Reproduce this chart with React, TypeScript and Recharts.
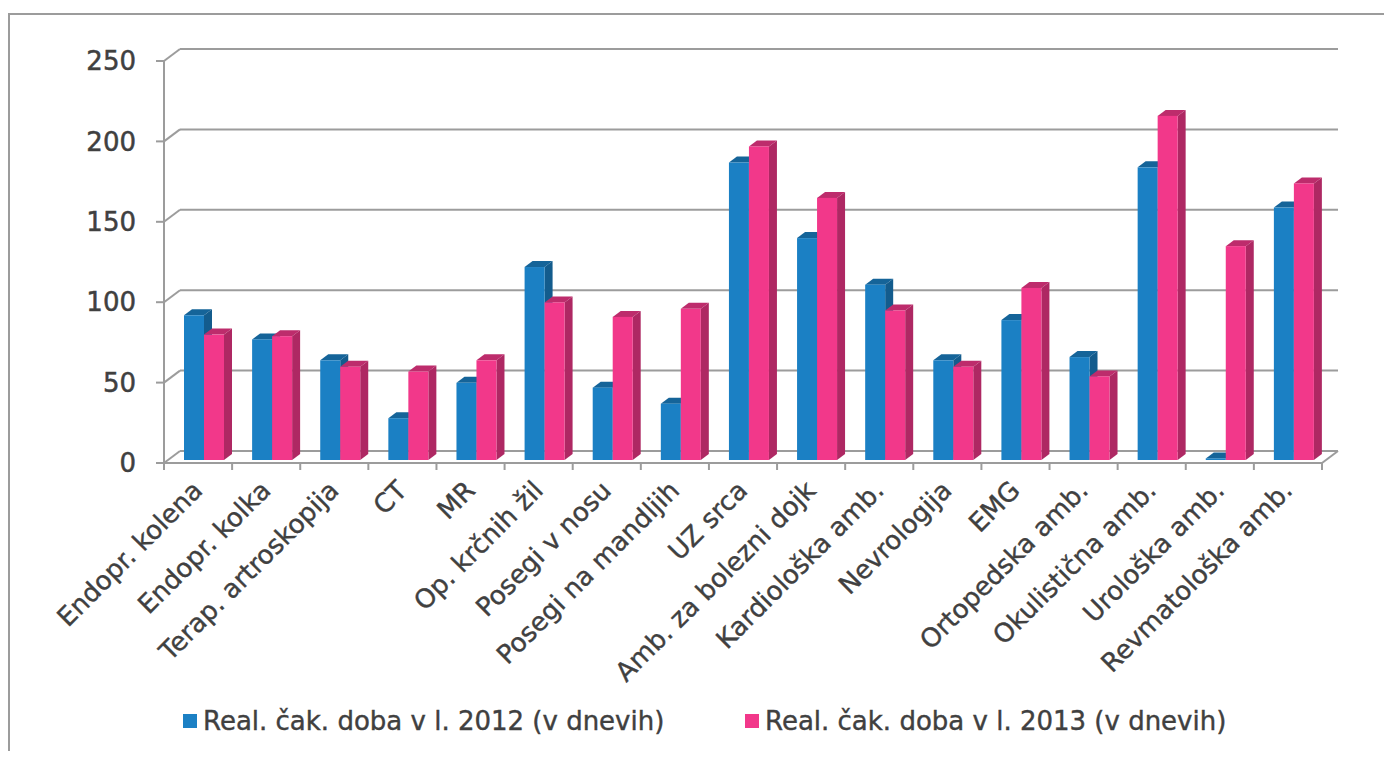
import React from 'react';
import { BarChart, Bar, XAxis, YAxis, CartesianGrid, Legend } from 'recharts';

const categories = [
  'Endopr. kolena', 'Endopr. kolka', 'Terap. artroskopija', 'CT', 'MR',
  'Op. krčnih žil', 'Posegi v nosu', 'Posegi na mandljih', 'UZ srca',
  'Amb. za bolezni dojk', 'Kardiološka amb.', 'Nevrologija', 'EMG',
  'Ortopedska amb.', 'Okulistična amb.', 'Urološka amb.', 'Revmatološka amb.',
];
const wait2012 = [90, 75, 62, 26, 48, 120, 45, 35, 185, 138, 109, 62, 87, 64, 182, 1, 157];
const wait2013 = [78, 77, 58, 55, 62, 98, 89, 94, 195, 163, 93, 58, 107, 52, 214, 133, 172];
const yTicks = [0, 50, 100, 150, 200, 250];

const SERIES_2012 = 'Real. čak. doba v l. 2012 (v dnevih)';
const SERIES_2013 = 'Real. čak. doba v l. 2013 (v dnevih)';

const data = categories.map((name, i) => ({ name, y2012: wait2012[i], y2013: wait2013[i] }));

const W = 1392;
const H = 759;
const LEFT = 164;
const RIGHT = 70;
const TOP = 61;
const BOTTOM = 296;
const BAND = (W - LEFT - RIGHT) / categories.length;
const FONT = '"DejaVu Sans", Verdana, sans-serif';
const TEXT = '#404040';
const GRID = '#9c9c9c';
// 3D look: back wall offset, bar depth
const WALL_DX = 16;
const WALL_DY = -12;
const DEPTH = 8;

const shade = (hex: string, k: number) => {
  const n = parseInt(hex.slice(1), 16);
  const r = Math.round(((n >> 16) & 255) * k);
  const g = Math.round(((n >> 8) & 255) * k);
  const b = Math.round((n & 255) * k);
  return `rgb(${r},${g},${b})`;
};

const Bar3D = (props: any) => {
  const { x, y, width, height, fill } = props;
  if (width == null || height == null) return null;
  const fx = x + 6;
  const fy = y - 3;
  const d = DEPTH;
  const dy = d * 0.75;
  return (
    <g>
      <polygon
        points={`${fx},${fy} ${fx + d},${fy - dy} ${fx + width + d},${fy - dy} ${fx + width},${fy}`}
        fill={shade(fill, 0.78)}
      />
      <polygon
        points={`${fx + width},${fy} ${fx + width + d},${fy - dy} ${fx + width + d},${fy + height - dy} ${fx + width},${fy + height}`}
        fill={shade(fill, 0.72)}
      />
      <rect x={fx} y={fy} width={width} height={height} fill={fill} />
    </g>
  );
};

const GridLine = (props: any) => {
  const { x1, x2, y1 } = props;
  return (
    <g key={props.key}>
      <line x1={x1} y1={y1} x2={x1 + WALL_DX} y2={y1 + WALL_DY} stroke={GRID} strokeWidth={2} />
      <line x1={x1 + WALL_DX} y1={y1 + WALL_DY} x2={x2 + WALL_DX} y2={y1 + WALL_DY} stroke={GRID} strokeWidth={2} />
      {props.index === 0 && (
        <line x1={x2} y1={y1} x2={x2 + WALL_DX} y2={y1 + WALL_DY} stroke={GRID} strokeWidth={2} />
      )}
    </g>
  );
};

const XTick = (props: any) => {
  const { x, y, payload, index } = props;
  const tx = x + 6;
  const ty = y + 29;
  const last = index === categories.length - 1;
  return (
    <g>
      <line x1={x - BAND / 2} y1={y} x2={x - BAND / 2} y2={y + 7} stroke={GRID} strokeWidth={2} />
      {last && <line x1={x + BAND / 2} y1={y} x2={x + BAND / 2} y2={y + 7} stroke={GRID} strokeWidth={2} />}
      <text
        x={tx}
        y={ty}
        textAnchor="end"
        transform={`rotate(-45, ${tx}, ${ty})`}
        fill={TEXT}
        stroke={TEXT}
        strokeWidth={0.4}
        fontSize={26}
        fontFamily={FONT}
      >
        {payload.value}
      </text>
    </g>
  );
};

const renderLegend = (props: any) => {
  const { payload } = props;
  const lefts = [183, 745];
  return (
    <div style={{ position: 'relative', width: W, height: 40 }}>
      {payload.map((p: any, i: number) => (
        <div
          key={p.value}
          style={{
            position: 'absolute',
            left: lefts[i],
            top: 0,
            display: 'flex',
            alignItems: 'center',
            fontFamily: FONT,
            fontSize: 26,
            color: TEXT,
            whiteSpace: 'nowrap',
            WebkitTextStroke: `0.4px ${TEXT}`,
          }}
        >
          <span style={{ width: 14, height: 14, background: p.color, marginRight: 6, display: 'inline-block' }} />
          {p.value}
        </div>
      ))}
    </div>
  );
};

export default function App() {
  return (
    <div style={{ position: 'relative', margin: -8, width: W, height: H, background: '#fff', overflow: 'hidden' }}>
      <div
        style={{
          position: 'absolute',
          left: 8,
          top: 13,
          width: W,
          height: H,
          borderTop: `2px solid ${GRID}`,
          borderLeft: `2px solid ${GRID}`,
        }}
      />
      <BarChart
        width={W}
        height={H}
        data={data}
        margin={{ top: TOP, right: RIGHT, left: LEFT - 80, bottom: BOTTOM - 200 }}
        barCategoryGap={14}
        barGap={0}
      >
        <CartesianGrid vertical={false} horizontal={GridLine} />
        <XAxis
          dataKey="name"
          interval={0}
          height={200}
          tickLine={false}
          tickSize={0}
          tickMargin={0}
          axisLine={{ stroke: GRID, strokeWidth: 2 }}
          tick={<XTick />}
        />
        <YAxis
          domain={[0, 250]}
          ticks={yTicks}
          width={80}
          tickSize={8}
          tickMargin={20}
          axisLine={{ stroke: GRID, strokeWidth: 2 }}
          tickLine={{ stroke: GRID, strokeWidth: 2 }}
          tick={{ fill: TEXT, stroke: TEXT, strokeWidth: 0.5, fontSize: 26, fontFamily: FONT }}
        />
        <Legend
          layout="horizontal"
          verticalAlign="middle"
          align="center"
          content={renderLegend}
          wrapperStyle={{ top: 706, left: 0, width: W }}
        />
        <Bar dataKey="y2012" name={SERIES_2012} fill="#1b80c4" shape={<Bar3D />} isAnimationActive={false} />
        <Bar dataKey="y2013" name={SERIES_2013} fill="#f2388a" shape={<Bar3D />} isAnimationActive={false} />
      </BarChart>
    </div>
  );
}
